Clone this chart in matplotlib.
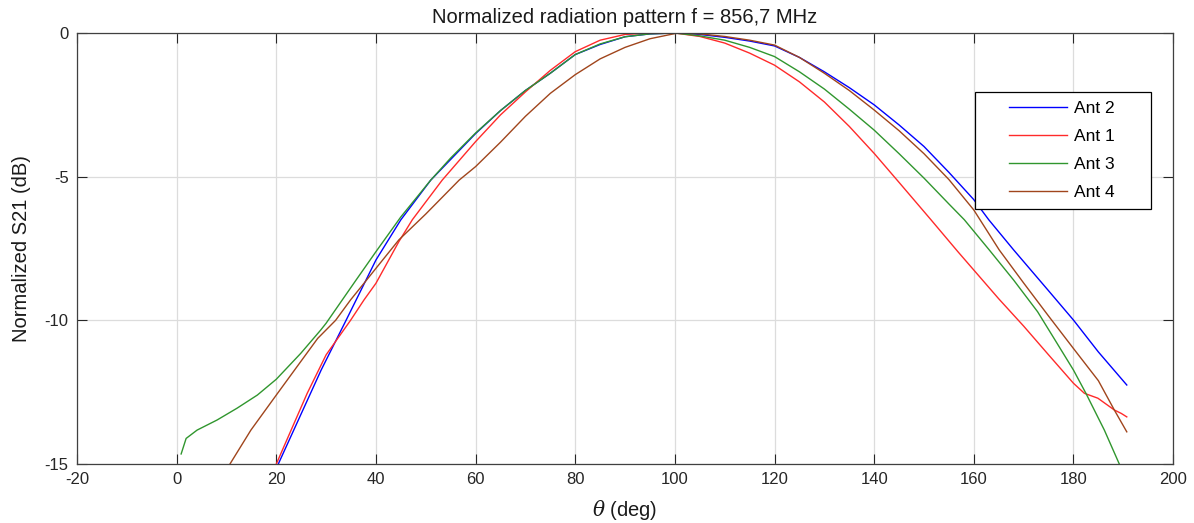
import matplotlib
matplotlib.use('Agg')
import matplotlib.pyplot as plt
from matplotlib.legend_handler import HandlerLine2D
from matplotlib.lines import Line2D

plt.rcParams['font.family'] = ['Liberation Sans', 'DejaVu Sans']
plt.rcParams['mathtext.fontset'] = 'dejavuserif'
plt.rcParams['axes.unicode_minus'] = False

# Ant 2 (blue)
theta_ant2 = [20.4, 25, 29, 34, 36, 40, 45, 51, 55, 60, 65, 70, 75, 80, 85, 90, 95, 100, 101,
              105, 110, 115, 120, 125, 130, 135, 140, 145, 150, 155, 160, 163, 168, 175, 180,
              185, 190.7]
s21_ant2 = [-15, -13.25, -11.73, -10.0, -9.3, -7.9, -6.5, -5.12, -4.4, -3.5, -2.7, -2.0, -1.4,
            -0.75, -0.4, -0.13, -0.03, 0, 0, -0.05, -0.15, -0.28, -0.45, -0.85, -1.35, -1.9,
            -2.5, -3.2, -3.95, -4.85, -5.8, -6.5, -7.55, -8.97, -9.99, -11.1, -12.25]

# Ant 1 (red)
theta_ant1 = [20, 26.2, 30, 34.9, 37.6, 40, 44.6, 47.3, 53.3, 60, 65, 70, 75, 80, 85, 90, 95,
              100, 105, 110, 115, 120, 125, 130, 135, 140, 145, 151.4, 156.8, 160, 165, 170,
              175, 180, 182.2, 184.9, 188.2, 189.6, 190.7]
s21_ant1 = [-15, -12.54, -11.2, -10.0, -9.29, -8.71, -7.26, -6.5, -5.12, -3.78, -2.85, -2.05,
            -1.3, -0.65, -0.25, -0.05, 0, 0, -0.12, -0.35, -0.7, -1.12, -1.7, -2.4, -3.25,
            -4.19, -5.2, -6.5, -7.61, -8.25, -9.25, -10.2, -11.2, -12.19, -12.54, -12.71,
            -13.12, -13.24, -13.36]

# Ant 3 (green)
theta_ant3 = [0.9, 1.9, 4.1, 8.1, 12.1, 16.2, 20, 24.9, 28.9, 30, 33, 36, 40, 45, 51, 55, 60,
              65, 70, 75, 80, 85, 90, 95, 100, 105, 110, 115, 120, 125, 130, 135, 140, 145, 150,
              155, 158.1, 163.1, 168, 172.8, 176, 180, 182.5, 186.2, 189.2]
s21_ant3 = [-14.65, -14.11, -13.82, -13.47, -13.06, -12.6, -12.05, -11.15, -10.34, -10.1,
            -9.35, -8.6, -7.61, -6.4, -5.12, -4.35, -3.48, -2.7, -2.0, -1.4, -0.75, -0.38,
            -0.13, -0.03, 0, -0.1, -0.25, -0.5, -0.82, -1.35, -1.95, -2.65, -3.38, -4.2,
            -5.05, -5.95, -6.5, -7.55, -8.6, -9.7, -10.6, -11.73, -12.54, -13.82, -15]

# Ant 4 (brown)
theta_ant4 = [10.7, 14.9, 20, 25.6, 28.3, 31.9, 34.9, 37.6, 40, 44.6, 50, 56.7, 60, 65, 70,
              75, 80, 85, 90, 95, 100, 101, 105, 110, 115, 120, 125, 130, 135, 140, 145, 150,
              155, 160, 165.1, 170, 175, 180, 185, 188.2, 190.7]
s21_ant4 = [-15, -13.82, -12.6, -11.27, -10.63, -10.0, -9.29, -8.71, -8.19, -7.2, -6.3,
            -5.12, -4.65, -3.8, -2.9, -2.1, -1.45, -0.9, -0.5, -0.2, -0.02, 0, -0.03, -0.12,
            -0.25, -0.42, -0.85, -1.4, -2.0, -2.68, -3.4, -4.2, -5.1, -6.16, -7.55, -8.7,
            -9.85, -10.98, -12.1, -13.12, -13.88]

xticks = [-20, 0, 20, 40, 60, 80, 100, 120, 140, 160, 180, 200]
yticks = [-15, -10, -5, 0]


# legend line drawn only on the right part of the handle box (extra left padding)
class PaddedLine(HandlerLine2D):
    def __init__(self, lpad, **kw):
        super().__init__(**kw)
        self.lpad = lpad

    def create_artists(self, legend, orig_handle, xdescent, ydescent, width, height,
                       fontsize, trans):
        p = self.lpad * fontsize
        return super().create_artists(legend, orig_handle, xdescent - p, ydescent,
                                      width - p, height, fontsize, trans)


fig = plt.figure(figsize=(11.94, 5.23), dpi=100)
ax = fig.add_axes([0.0645, 0.1128, 0.918, 0.8241])

ax.plot(theta_ant2, s21_ant2, color='#0000ff', lw=1.0, label='Ant 2')
ax.plot(theta_ant1, s21_ant1, color='#ff2a2a', lw=1.0, label='Ant 1')
ax.plot(theta_ant3, s21_ant3, color='#30962e', lw=1.0, label='Ant 3')
ax.plot(theta_ant4, s21_ant4, color='#a0451c', lw=1.0, label='Ant 4')

ax.set_xlim(-20, 200)
ax.set_ylim(-15, 0)
ax.set_xticks(xticks)
ax.set_yticks(yticks)
ax.grid(True, color='#dcdcdc', lw=0.9)
ax.set_axisbelow(True)
ax.tick_params(direction='in', length=7, width=0.8, top=True, right=True,
               labelsize=12, colors='#262626', pad=6)
for s in ax.spines.values():
    s.set_color('#404040')
    s.set_linewidth(0.9)

ax.set_title('Normalized radiation pattern f = 856,7 MHz', fontsize=14.5, color='#1a1a1a', pad=7)
ax.set_xlabel(r'$\theta$ (deg)', fontsize=14.5, color='#1a1a1a', labelpad=8)
ax.set_ylabel('Normalized S21 (dB)', fontsize=14.5, color='#1a1a1a', labelpad=9.5)

leg = ax.legend(loc='upper left', bbox_to_anchor=(0.8193, 0.5, 0.1606, 0.363),
                mode='expand', borderaxespad=0, fontsize=12.5,
                handlelength=4.78, handletextpad=0.4, labelspacing=0.74, borderpad=0.5,
                fancybox=False, framealpha=1, edgecolor='#000000',
                handler_map={Line2D: PaddedLine(1.44)})
leg.get_frame().set_linewidth(0.9)

plt.savefig('out.png', dpi=100)
plt.close()
